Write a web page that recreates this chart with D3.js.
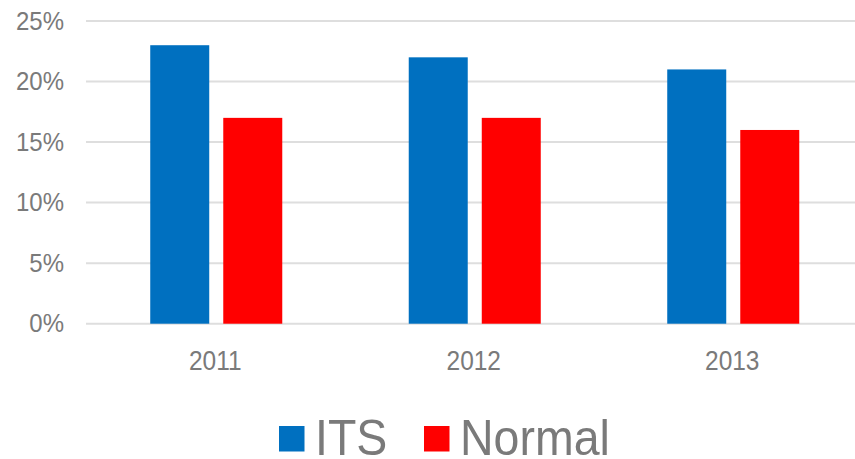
<!DOCTYPE html>
<html>
<head>
<meta charset="utf-8">
<script src="https://cdn.jsdelivr.net/npm/d3@7"></script>
<style>
  html, body { margin: 0; padding: 0; background: #fff; }
  svg { display: block; }
  text { font-family: "Liberation Sans", Arial, sans-serif; fill: #7a7a7a; }
</style>
</head>
<body>
<svg id="chart" width="855" height="459"></svg>
<script>
const categories = ["2011", "2012", "2013"];
const seriesNames = ["ITS", "Normal"];
const itsValues = [0.23, 0.22, 0.21];
const normalValues = [0.17, 0.17, 0.16];
const yTicks = [0, 0.05, 0.10, 0.15, 0.20, 0.25];
const colors = ["#0070C0", "#FF0000"];

const svg = d3.select("#chart");
const W = 855, H = 459;

const x = d3.scaleBand().domain(categories).range([87, 862.5]).paddingInner(0).paddingOuter(0);
const xs = d3.scaleBand().domain(seriesNames).range([0, x.bandwidth()]).paddingInner(0.192).paddingOuter(0.866);
const y = d3.scaleLinear().domain([0, 0.25]).range([323.7, 21]);

// gridlines
svg.append("g").selectAll("line").data(yTicks).join("line")
  .attr("x1", 86).attr("x2", W)
  .attr("y1", d => y(d)).attr("y2", d => y(d))
  .attr("stroke", "#dedede").attr("stroke-width", 2);

// y labels
const fmt = d3.format(".0%");
svg.append("g").selectAll("text").data(yTicks).join("text")
  .attr("text-anchor", "end")
  .attr("transform", d => `translate(64,${y(d) + 8.5}) scale(1,1.1)`)
  .style("font-size", "24px")
  .text(d => fmt(d));

// bars
const data = categories.map((c, i) => ({ cat: c, vals: [itsValues[i], normalValues[i]] }));
const groups = svg.append("g").selectAll("g").data(data).join("g")
  .attr("transform", d => `translate(${x(d.cat)},0)`);
groups.selectAll("rect").data(d => d.vals.map((v, j) => ({ s: seriesNames[j], v, j }))).join("rect")
  .attr("x", d => xs(d.s))
  .attr("width", xs.bandwidth())
  .attr("y", d => y(d.v))
  .attr("height", d => y(0) - y(d.v))
  .attr("fill", d => colors[d.j]);

// x labels
svg.append("g").selectAll("text").data(categories).join("text")
  .attr("text-anchor", "middle")
  .attr("transform", d => `translate(${x(d) + x.bandwidth() / 2 - 1},370) scale(1,1.1)`)
  .style("font-size", "24.5px")
  .text(d => d);

// legend
const legend = svg.append("g");
const legendX = [279, 424];
seriesNames.forEach((s, i) => {
  legend.append("rect").attr("x", legendX[i]).attr("y", 426).attr("width", 25.5).attr("height", 25.5).attr("fill", colors[i]);
  legend.append("text")
    .attr("transform", `translate(${legendX[i] + 36},455) scale(1,1.09)`)
    .style("font-size", "46.5px")
    .text(s);
});
</script>
</body>
</html>
